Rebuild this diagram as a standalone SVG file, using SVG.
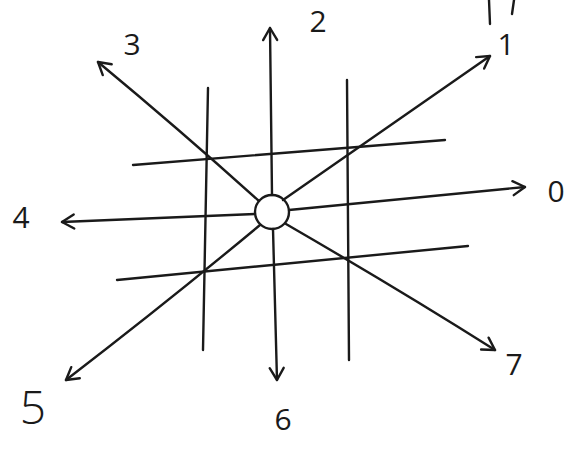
<svg xmlns="http://www.w3.org/2000/svg" width="581" height="451" viewBox="0 0 581 451">
<style>
.ln{stroke:#1a1a1a;stroke-width:2.4;fill:none;stroke-linecap:round;stroke-linejoin:round}
.ar{stroke:#1a1a1a;stroke-width:2.4;fill:none;stroke-linecap:round;stroke-linejoin:round;marker-end:url(#ah)}
.lb{font-family:"Open Sans","DejaVu Sans",sans-serif;font-weight:400;font-size:30px;fill:#1a1a1a;text-anchor:middle}
</style>
<defs>
<marker id="ah" markerUnits="userSpaceOnUse" markerWidth="30" markerHeight="30" refX="0" refY="0" viewBox="-15 -15 30 30" orient="auto">
<path d="M -12 -7 L 0 0 L -12 7" fill="none" stroke="#1a1a1a" stroke-width="2.4" stroke-linecap="round" stroke-linejoin="round"/>
</marker>
</defs>
<rect width="581" height="451" fill="#fff"/>
<g id="grid">
<path class="ln" d="M208 88 L203 350"/>
<path class="ln" d="M347 80 L349 360"/>
<path class="ln" d="M133 165 L445 140"/>
<path class="ln" d="M117 280 L468 246"/>
</g>
<g id="connectors">
<path class="ar" d="M272 195 L270 28"/>
<path class="ar" d="M283 200 L490 56"/>
<path class="ar" d="M289 210 L525 187"/>
<path class="ar" d="M259 201 Q180 130 98 62"/>
<path class="ar" d="M255 214 L62 222"/>
<path class="ar" d="M260 225 Q170 300 66 380"/>
<path class="ar" d="M273 229 L277 380"/>
<path class="ar" d="M286 224 Q400 290 495 350"/>
</g>
<g id="center"><circle class="ln" cx="272" cy="212" r="17"/></g>
<g id="label-0"><text class="lb" x="556" y="202">0</text></g>
<g id="label-1"><text class="lb" x="506" y="55">1</text><path class="ln" d="M489 0 L490 24 M514 0 L512 14"/></g>
<g id="label-2"><text class="lb" x="318" y="32">2</text></g>
<g id="label-3"><text class="lb" x="132" y="55">3</text></g>
<g id="label-4"><text class="lb" x="21" y="228">4</text></g>
<g id="label-5"><text class="lb" x="33" y="424" style="font-size:46px;font-weight:300">5</text></g>
<g id="label-6"><text class="lb" x="283" y="430">6</text></g>
<g id="label-7"><text class="lb" x="514" y="375">7</text></g>
</svg>
